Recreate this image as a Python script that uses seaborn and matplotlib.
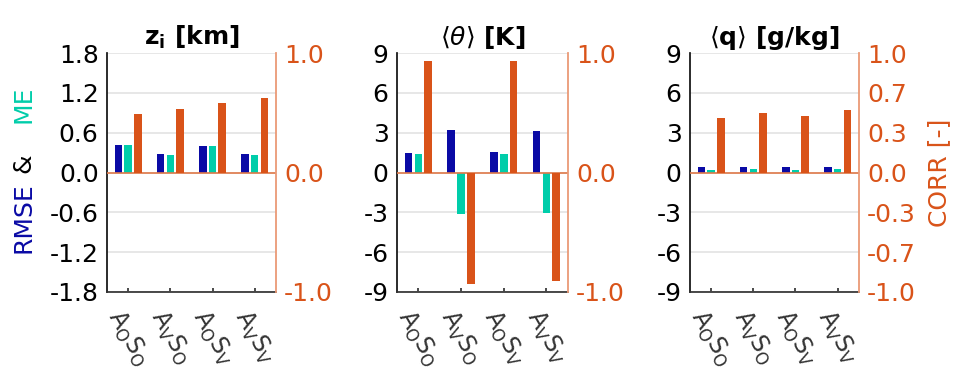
import numpy as np
import pandas as pd
import seaborn as sns
import matplotlib.pyplot as plt

sns.set_theme(style="white")
plt.rcParams['font.family'] = ['DejaVu Sans']
plt.rcParams['mathtext.fontset'] = 'dejavusans'

# data
groups = [r"A$_\mathrm{O}$S$_\mathrm{O}$", r"A$_\mathrm{V}$S$_\mathrm{O}$",
          r"A$_\mathrm{O}$S$_\mathrm{V}$", r"A$_\mathrm{V}$S$_\mathrm{V}$"]
titles = [r"z$_\mathbf{i}$ [km]", r"$\langle\theta\rangle$ [K]", r"$\langle\mathbf{q}\rangle$ [g/kg]"]

zi_rmse = [0.42, 0.28, 0.40, 0.28]
zi_me = [0.41, 0.27, 0.40, 0.27]
zi_corr = [0.49, 0.53, 0.58, 0.62]

th_rmse = [1.49, 3.23, 1.54, 3.15]
th_me = [1.36, -3.13, 1.41, -3.08]
th_corr = [0.93, -0.93, 0.93, -0.91]

q_rmse = [0.40, 0.43, 0.40, 0.42]
q_me = [0.18, 0.23, 0.18, 0.23]
q_corr = [0.46, 0.50, 0.47, 0.52]

left_lims = [1.8, 9, 9]
left_steps = [0.6, 3, 3]

blue = '#0a0aa5'
teal = '#00cdaa'
orange = '#d95319'
spine_orange = '#eb9a76'
hue_order = ['RMSE', 'ME', 'CORR']
palette = {'RMSE': blue, 'ME': teal, 'CORR': orange}

panels = [(zi_rmse, zi_me, zi_corr), (th_rmse, th_me, th_corr), (q_rmse, q_me, q_corr)]

fig = plt.figure(figsize=(9.59, 3.71), dpi=100)
lefts = [0.1116, 0.414, 0.7195]
widths = [0.176, 0.178, 0.176]
bottom, height = 0.213, 0.644

for i, (rmse, me, corr) in enumerate(panels):
    ax = fig.add_axes([lefts[i], bottom, widths[i], height])
    ax2 = ax.twinx()

    df_l = pd.DataFrame({'exp': groups * 2,
                         'metric': ['RMSE'] * 4 + ['ME'] * 4,
                         'val': rmse + me})
    df_r = pd.DataFrame({'exp': groups, 'metric': ['CORR'] * 4, 'val': corr})

    sns.barplot(data=df_l, x='exp', y='val', hue='metric', hue_order=hue_order,
                palette=palette, width=0.69, gap=0.22, linewidth=0, ax=ax,
                legend=False, errorbar=None, dodge=True, saturation=1)
    sns.barplot(data=df_r, x='exp', y='val', hue='metric', hue_order=hue_order,
                palette=palette, width=0.69, gap=0.22, linewidth=0, ax=ax2,
                legend=False, errorbar=None, dodge=True, saturation=1)

    lim = left_lims[i]
    lt = np.round(np.arange(-lim, lim + 1e-9, left_steps[i]), 2)
    ax.set_ylim(-lim, lim)
    ax.set_yticks(lt)
    if i == 0:
        ax.set_yticklabels([f"{v:.1f}".replace('-0.0', '0.0') for v in lt])
    else:
        ax.set_yticklabels([f"{v:.0f}" for v in lt])
    ax.set_xlim(-0.5, 3.5)
    ax.yaxis.grid(True, color='#e3e3e3', linewidth=1.2)
    ax.set_axisbelow(True)
    ax.set_xlabel('')
    ax.set_ylabel('')
    ax.tick_params(axis='y', labelsize=18, length=0, pad=6, colors='black')
    ax.tick_params(axis='x', labelsize=17, direction='in', length=3, pad=10,
                   labelrotation=-60, colors='#333333', bottom=True)
    for lab in ax.get_xticklabels():
        lab.set_ha('center')

    ax2.set_ylim(-1, 1)
    if i == 2:
        rt = [-1, -2 / 3, -1 / 3, 0, 1 / 3, 2 / 3, 1]
    else:
        rt = [-1, 0, 1]
    ax2.set_yticks(rt)
    ax2.set_yticklabels([f"{v:.1f}".replace('-0.0', '0.0') for v in rt])
    ax2.tick_params(axis='y', labelsize=18, colors=orange, length=0, pad=6)
    ax2.set_ylabel('')
    ax2.axhline(0, color='#e07a4a', linewidth=1.2, zorder=0)

    for a in (ax, ax2):
        a.spines['top'].set_visible(False)
    ax.spines['right'].set_visible(False)
    ax2.spines['left'].set_visible(False)
    ax2.spines['bottom'].set_visible(False)
    ax2.spines['right'].set_color(spine_orange)
    ax2.spines['right'].set_linewidth(1.3)
    ax.spines['left'].set_color('#111111')
    ax.spines['bottom'].set_color('#333333')

    ax.set_title(titles[i], fontsize=18, fontweight='bold', pad=6, color='black')

    if i == 2:
        ax2.set_ylabel('CORR [-]', color=orange, fontsize=18, labelpad=8)

# multicoloured left label
fig.text(0.024, 0.414, 'RMSE', color=blue, fontsize=18, rotation=90, ha='center', va='center')
fig.text(0.024, 0.56, '&', color='black', fontsize=18, rotation=90, ha='center', va='center')
fig.text(0.024, 0.72, 'ME', color=teal, fontsize=18, rotation=90, ha='center', va='center')

fig.savefig('out.png', dpi=100)
